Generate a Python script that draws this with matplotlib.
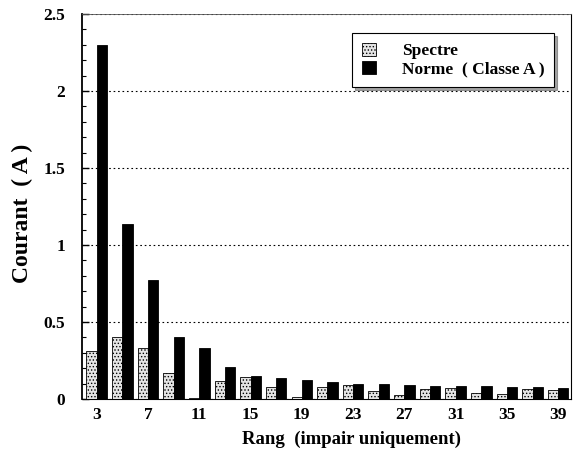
import numpy as np
import matplotlib
matplotlib.use("Agg")
import matplotlib.pyplot as plt

rangs = np.arange(3, 40, 2)
spectre = [0.31, 0.40, 0.33, 0.17, 0.005, 0.12, 0.14, 0.08, 0.01, 0.078,
           0.09, 0.054, 0.026, 0.065, 0.069, 0.037, 0.032, 0.063, 0.058]
norme = [2.30, 1.14, 0.77, 0.40, 0.33, 0.21, 0.147, 0.134, 0.121, 0.11,
         0.10, 0.095, 0.09, 0.087, 0.084, 0.082, 0.076, 0.076, 0.073]
xtick_rangs = [3, 7, 11, 15, 19, 23, 27, 31, 35, 39]

plt.rcParams['font.family'] = ['Liberation Serif', 'DejaVu Serif']
plt.rcParams['font.weight'] = 'bold'
plt.rcParams['hatch.color'] = '#555555'
plt.rcParams['hatch.linewidth'] = 0.6

fig = plt.figure(figsize=(5.75, 4.7), dpi=100)
ax = fig.add_axes([0.1426, 0.151, 0.8504, 0.819])

w = 0.8
ax.bar(rangs - w / 2, spectre, w, color='#e4e4e4', hatch='.....',
       edgecolor='black', linewidth=0.6, label='Spectre', zorder=3)
ax.bar(rangs + w / 2, norme, w, color='black', edgecolor='black',
       linewidth=0.6, label='Norme  ( Classe A )', zorder=3)

ax.set_xlim(1.85, 40.0)
ax.set_ylim(0, 2.5)
ax.set_xticks(xtick_rangs)
ax.set_xticks([], minor=True)
ax.set_yticks([0, 0.5, 1, 1.5, 2, 2.5])
ax.set_yticklabels(['0', '0.5', '1', '1.5', '2', '2.5'])
ax.set_yticks(np.arange(0, 2.5, 0.1), minor=True)
ax.tick_params(axis='y', which='major', direction='in', length=5, width=1, labelsize=12.5, pad=12)
ax.tick_params(axis='y', which='minor', direction='in', length=3, width=0.8)
ax.tick_params(axis='x', length=0, labelsize=12.5, pad=6)
for lab in ax.get_xticklabels() + ax.get_yticklabels():
    lab.set_fontweight('bold')

ax.yaxis.grid(True, which='major', linestyle=(0, (1.5, 2.5)), color='black', linewidth=0.8, zorder=0)

ax.spines['left'].set_linewidth(1.3)
ax.spines['top'].set_linewidth(0.6)
ax.spines['top'].set_color('#555555')
ax.spines['right'].set_linewidth(0.8)
ax.spines['bottom'].set_linewidth(0.8)

ax.set_xlabel('Rang  (impair uniquement)', fontsize=13.5, fontweight='bold')
ax.xaxis.set_label_coords(0.552, -0.082)
ax.set_ylabel('Courant  ( A )', fontsize=17, fontweight='bold')
ax.yaxis.set_label_coords(-0.10, 0.483)

leg = ax.legend(loc='upper right', bbox_to_anchor=(0.965, 0.951), borderaxespad=0,
                fontsize=12.5, frameon=True, fancybox=False, shadow=True, edgecolor='black',
                handlelength=0.8, handleheight=0.8, handletextpad=1.5,
                borderpad=0.55, labelspacing=0.1)
leg.get_frame().set_linewidth(0.8)
for t in leg.get_texts():
    t.set_fontweight('bold')

fig.savefig('out.png', dpi=100)
